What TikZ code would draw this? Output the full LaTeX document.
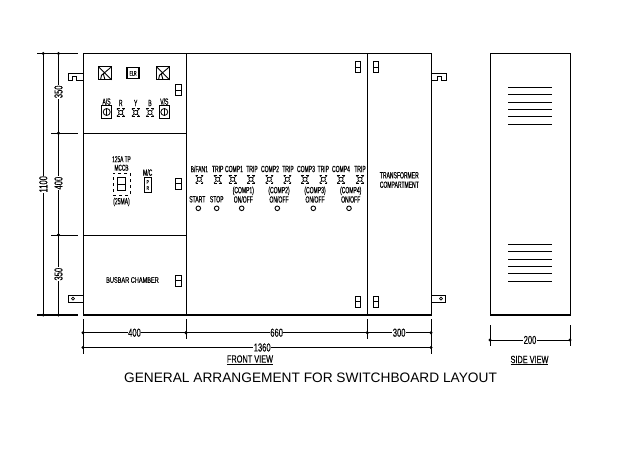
\documentclass[tikz,border=0pt]{standalone}
\usepackage{fontspec}
\setmainfont{Liberation Sans}
\newfontfamily\cadfont[FakeStretch=0.56,FakeBold=0.35]{Liberation Sans}
\newfontfamily\cadwide[FakeStretch=0.7,FakeBold=0.35]{Liberation Sans}
\newfontfamily\caddim[FakeStretch=0.66,FakeBold=0.25]{Liberation Sans}
\usetikzlibrary{calc}
\usetikzlibrary{positioning}
\tikzset{
    panel/.style={rectangle, draw, line width=0.8pt, inner sep=0pt, outer sep=0pt},
    label/.style={inner sep=0pt, align=center, font=\cadfont\fontsize{9}{9.4}\selectfont},
    dimlabel/.style={inner sep=0.5pt, fill=white, font=\caddim\fontsize{11.5}{12}\selectfont},
    viewlabel/.style={inner sep=0pt, font=\cadwide\fontsize{10.5}{11}\selectfont},
    dimdot/.style={circle, fill, inner sep=0pt, minimum size=3.2pt},
    dimline/.style={line width=0.8pt},
    lamp/.style={circle, draw, fill=white, inner sep=0pt, line width=0.7pt, minimum size=4.2pt},
    handlebox/.style={rectangle, draw, line width=0.8pt, inner sep=0pt, outer sep=0pt, minimum width=5.6pt, minimum height=11pt},
    meter/.style={rectangle, draw, line width=1.1pt, inner sep=0pt, outer sep=0pt, minimum size=13pt},
    selector/.style={rectangle, draw, line width=1.1pt, inner sep=0pt, outer sep=0pt, minimum width=10pt, minimum height=13pt},
    louvre/.style={line width=0.9pt},
    button/.style={circle, draw, inner sep=0pt, line width=0.9pt, minimum size=4.6pt},
}
% door handle: box split in two
\newcommand{\handle}[3]{
    \node (#1) [handlebox] at (#2,#3) {};
    \draw [line width=0.8pt] (#1.west) -- (#1.east);
}
% indicating lamp: circle with corner ticks
\newcommand{\indicator}[3]{
    \coordinate (#1_c) at (#2,#3);
    \draw [line width=0.7pt] ($(#1_c)+(-3.8,-3.8)$) -- ($(#1_c)+(3.8,3.8)$) ($(#1_c)+(-3.8,3.8)$) -- ($(#1_c)+(3.8,-3.8)$);
    \draw [line width=0.7pt] ($(#1_c)+(-3.8,-3.8)$) -- ($(#1_c)+(-1.2,-3.8)$) ($(#1_c)+(3.8,-3.8)$) -- ($(#1_c)+(1.2,-3.8)$) ($(#1_c)+(-3.8,3.8)$) -- ($(#1_c)+(-1.2,3.8)$) ($(#1_c)+(3.8,3.8)$) -- ($(#1_c)+(1.2,3.8)$);
    \node (#1) [lamp] at (#1_c) {};
}
% meter face with needle strokes
\newcommand{\meterface}[3]{
    \node (#1) [meter] at (#2,#3) {};
    \draw [line width=0.9pt] (#1.north west) -- (#1.south east) (#1.north east) -- ($(#1)+(-3.5,2)$) -- ($(#1)+(-4.5,6.5)$) ($(#1)+(-1.5,1)$) -- ($(#1)+(0,6.5)$);
}
% selector switch: box with dial
\newcommand{\dial}[3]{
    \node (#1) [selector] at (#2,#3) {};
    \node (#1_knob) [circle, draw, inner sep=0pt, line width=0.8pt, minimum size=7pt] at (#1.center) {};
    \draw [line width=0.8pt] (#1_knob.north) -- (#1_knob.south);
}
% dimension line, two dots and a figure
\newcommand{\dimension}[6]{
    \coordinate (#1_a) at (#2);
    \coordinate (#1_b) at (#3);
    \draw [dimline] (#1_a) -- (#1_b);
    \node [dimdot] at (#1_a) {};
    \node [dimdot] at (#1_b) {};
    \node (#1_text) [dimlabel, #6] at ($(#1_a)!#4!(#1_b)$) {#5};
}
\begin{document}
\begin{tikzpicture}[x=1pt, y=-1pt]
    \useasboundingbox (0,0) rectangle (640,452);

    % front view panels
    \node (meterPanel) [panel, minimum width=103pt, minimum height=80pt, anchor=north west] at (83,53.5) {};
    \node (mccbPanel) [panel, minimum width=103pt, minimum height=101.5pt, below=0pt of meterPanel.south west, anchor=north west] {};
    \node (busbarPanel) [panel, minimum width=103pt, minimum height=80pt, below=0pt of mccbPanel.south west, anchor=north west] {};
    \node (controlPanel) [panel, minimum width=181.5pt, minimum height=261.5pt, right=0pt of meterPanel.north east, anchor=north west] {};
    \node (trafoPanel) [panel, minimum width=63.5pt, minimum height=261.5pt, right=0pt of controlPanel.north east, anchor=north west] {};
    \draw [line width=1.6pt] (busbarPanel.south west) -- (trafoPanel.south east);

    % side view
    \node (sidePanel) [panel, minimum width=80pt, minimum height=261.5pt, anchor=north west] at (490,53.5) {};
    \draw [line width=1.6pt] (sidePanel.south west) -- (sidePanel.south east);
    \foreach \y in {87.3,94.7,102,109.3,116.7,124,244.3,251.7,259,266.3,273.7,281} {
        \draw [louvre] (508,\y) -- (552,\y);
    }

    % hinges
    \draw [line width=0.8pt] (meterPanel.west |- 0,73.3) -- (68.3,73.3) -- (68.3,80.7) -- (72,80.7) -- (72,76.5) -- (76.5,76.5) -- (76.5,80.7) -- (meterPanel.west |- 0,80.7);
    \draw [line width=0.8pt] (trafoPanel.east |- 0,73.3) -- (446,73.3) -- (446,80.7) -- (441.5,80.7) -- (441.5,76.5) -- (437,76.5) -- (437,80.7) -- (trafoPanel.east |- 0,80.7);
    \node (hingeBL) [rectangle, draw, line width=0.8pt, inner sep=0pt, minimum width=14.7pt, minimum height=7.4pt] at (75.65,298.6) {};
    \node (hingeBLhole) [circle, draw, inner sep=0pt, line width=0.6pt, minimum size=3pt] at (73,298.6) {};
    \node (hingeBR) [rectangle, draw, line width=0.8pt, inner sep=0pt, minimum width=14.7pt, minimum height=7.4pt] at (438.35,298.6) {};
    \node (hingeBRhole) [circle, draw, inner sep=0pt, line width=0.6pt, minimum size=3pt] at (441,298.6) {};

    % handles
    \handle{handleA}{178.3}{90}
    \handle{handleB}{178.3}{183.5}
    \handle{handleC}{178.3}{280.5}
    \handle{handleD}{358}{67.3}
    \handle{handleE}{376}{67.3}
    \handle{handleF}{358}{301.7}
    \handle{handleG}{376}{301.7}

    % meters and incomer
    \meterface{ammeter}{105}{73.3}
    \node (elr) [meter, minimum width=12pt, minimum height=11pt, font=\cadfont\fontsize{6.5}{7}\selectfont] at (133,73.3) {ELR};
    \meterface{voltmeter}{163}{73.3}

    \node (as_text) [label] at (106.5,101.5) {A/S};
    \dial{as}{106.7}{112}
    \node (vs_text) [label] at (164.3,101.5) {V/S};
    \dial{vs}{164.3}{112}
    \node (r_text) [label] at (120.7,103) {R};
    \indicator{lampR}{120.7}{112.5}
    \node (y_text) [label] at (135.7,103) {Y};
    \indicator{lampY}{135.7}{112.5}
    \node (b_text) [label] at (150,103) {B};
    \indicator{lampB}{150}{112.5}

    \node (mccb_text) [label, font=\cadfont\fontsize{8.5}{8.5}\selectfont] at (121.5,163.5) {125A TP\\MCCB};
    \node (mccb) [rectangle, draw, dashed, line width=0.8pt, inner sep=0pt, minimum width=17pt, minimum height=22pt] at (121.5,184) {};
    \node (mccb_toggle) [rectangle, draw, line width=1pt, inner sep=0pt, minimum width=7.5pt, minimum height=13pt, below=4.5pt of mccb.north] {};
    \draw [line width=1pt] (mccb_toggle.west) -- (mccb_toggle.east);
    \node (mccb_rating) [label] at (121.5,202) {(25MA)};
    \node (mc_text) [label] at (147.7,172.5) {M/C};
    \node (mc) [rectangle, draw, line width=0.7pt, inner sep=0pt, minimum width=7.5pt, minimum height=14.5pt, align=center, font=\cadfont\fontsize{5.5}{6}\selectfont] at (147.7,185) {P\\R};

    \node (busbar_text) [label, font=\cadwide\fontsize{8}{9}\selectfont] at (132.5,280) {BUSBAR CHAMBER};

    % control row
    \node (fan_text) [label] at (199.3,169) {B/FAN1};
    \node (tripfan_text) [label] at (217.7,169) {TRIP};
    \node (compA_text) [label] at (234,169) {COMP1};
    \node (tripA_text) [label] at (252,169) {TRIP};
    \node (compB_text) [label] at (270,169) {COMP2};
    \node (tripB_text) [label] at (288,169) {TRIP};
    \node (compC_text) [label] at (306,169) {COMP3};
    \node (tripC_text) [label] at (323.3,169) {TRIP};
    \node (compD_text) [label] at (341,169) {COMP4};
    \node (tripD_text) [label] at (360,169) {TRIP};

    \indicator{lampFan}{199.3}{179.3}
    \indicator{lampTripFan}{217.7}{179.3}
    \indicator{lampCompA}{232.7}{179.3}
    \indicator{lampTripA}{251}{179.3}
    \indicator{lampCompB}{269.3}{179.3}
    \indicator{lampTripB}{287.3}{179.3}
    \indicator{lampCompC}{305}{179.3}
    \indicator{lampTripC}{323.3}{179.3}
    \indicator{lampCompD}{341}{179.3}
    \indicator{lampTripD}{360}{179.3}

    \node (start_text) [label] at (197.3,199.3) {START};
    \node (stop_text) [label] at (216.7,199.3) {STOP};
    \node (compA_sw) [label] at (243.3,194.7) {(COMP1)\\ON/OFF};
    \node (compB_sw) [label] at (279,194.7) {(COMP2)\\ON/OFF};
    \node (compC_sw) [label] at (315,194.7) {(COMP3)\\ON/OFF};
    \node (compD_sw) [label] at (350.7,194.7) {(COMP4)\\ON/OFF};

    \node (btnStart) [button] at (198.3,208.3) {};
    \node (btnStop) [button] at (216.7,208.3) {};
    \node (btnA) [button] at (241.7,208.3) {};
    \node (btnB) [button] at (277.3,208.3) {};
    \node (btnC) [button] at (313.3,208.3) {};
    \node (btnD) [button] at (349,208.3) {};

    \node (trafo_text) [label] at (399.3,180) {TRANSFORMER\\COMPARTMENT};

    % vertical dimensions
    \draw [line width=0.8pt] (37,53.5) -- (78,53.5);
    \draw [line width=0.8pt] (51,133.3) -- (78,133.3);
    \draw [line width=0.8pt] (51,235) -- (78,235);
    \draw [line width=1.6pt] (37,315) -- (78,315);
    \dimension{dimTotal}{43.3,53.5}{43.3,315}{0.5}{1100}{rotate=90}
    \dimension{dimUpper}{58.5,53.5}{58.5,133.3}{0.48}{350}{rotate=90}
    \dimension{dimMiddle}{58.5,133.3}{58.5,235}{0.49}{400}{rotate=90}
    \dimension{dimLower}{58.5,235}{58.5,315}{0.49}{350}{rotate=90}

    % horizontal dimensions
    \draw [line width=0.8pt] (83,319) -- (83,354);
    \draw [line width=0.8pt] (186,319) -- (186,339);
    \draw [line width=0.8pt] (367.3,319) -- (367.3,339);
    \draw [line width=0.8pt] (431,319) -- (431,354);
    \dimension{dimBus}{83,332.7}{186,332.7}{0.5}{400}{}
    \dimension{dimCtrl}{186,332.7}{367.3,332.7}{0.5}{660}{}
    \dimension{dimTrafo}{367.3,332.7}{431,332.7}{0.5}{300}{}
    \dimension{dimWidth}{83,347.5}{431,347.5}{0.515}{1360}{}
    \draw [line width=0.8pt] (490,325) -- (490,346);
    \draw [line width=0.8pt] (570,325) -- (570,346);
    \dimension{dimDepth}{490,340}{570,340}{0.5}{200}{}

    \node (front_title) [viewlabel] at (250,360) {\underline{FRONT VIEW}};
    \node (side_title) [viewlabel] at (529.5,360.5) {\underline{SIDE VIEW}};
    \node (title) [inner sep=0pt, font=\fontsize{13.7}{15}\selectfont] at (310.5,377.5) {GENERAL ARRANGEMENT FOR SWITCHBOARD LAYOUT};
\end{tikzpicture}
\end{document}
